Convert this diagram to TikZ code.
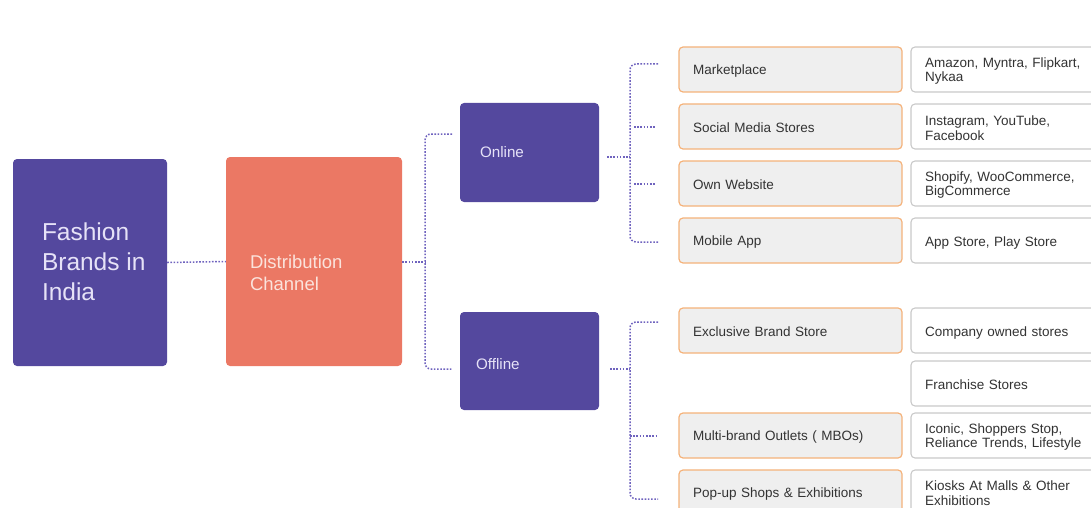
\documentclass[tikz,border=0pt]{standalone}
\usepackage{fontspec}
\setmainfont{Liberation Sans}
\usetikzlibrary{calc}
\definecolor{pur}{HTML}{54489E}
\definecolor{sal}{HTML}{EB7864}
\definecolor{obord}{HTML}{F5B27A}
\definecolor{ofill}{HTML}{EFEFEF}
\definecolor{wbord}{HTML}{C9C9C9}
\definecolor{gtext}{HTML}{333333}
\definecolor{ptext}{HTML}{E6E2F7}
\definecolor{stext}{HTML}{FBE3DC}
\definecolor{dotc}{HTML}{6F63BE}
\tikzset{
  bigbox/.style={rounded corners=4pt, inner sep=0pt, draw=none},
  purbox/.style={bigbox, fill=pur, minimum width=139pt, minimum height=99pt},
  btext/.style={anchor=west, align=left, inner sep=0pt},
  obox/.style={draw=obord, line width=1.2pt, fill=ofill, rounded corners=4pt,
    minimum height=45pt, inner xsep=14pt, inner ysep=0pt, text width=195pt, align=left,
    text=gtext, font=\fontsize{13.5}{14.5}\selectfont},
  wbox/.style={draw=wbord, line width=1.1pt, fill=white, rounded corners=4pt,
    minimum height=45pt, inner xsep=14pt, inner ysep=0pt, text width=162pt, align=left,
    text=gtext, font=\fontsize{13.5}{14.5}\selectfont},
  conn/.style={draw=dotc, line width=1.5pt, dash pattern=on 1.6pt off 1.6pt},
}
\begin{document}
\begin{tikzpicture}[x=1pt,y=-1pt]
\useasboundingbox (0,0) rectangle (1091,508);
\clip (0,0) rectangle (1091,508);
% level 0 and 1
\node[bigbox, fill=pur, minimum width=154pt, minimum height=207pt] (fashion) at (90,262.5) {};
\node[btext, text=ptext, font=\fontsize{24.5}{30}\selectfont] (fashiont) at ($(fashion.west)+(29,-1)$) {Fashion\\Brands in\\India};
\node[bigbox, fill=sal, minimum width=176pt, minimum height=209pt] (dist) at (314,261.5) {};
\node[btext, text=stext, font=\fontsize{18.5}{22}\selectfont] (distt) at ($(dist.west)+(24,11)$) {Distribution\\Channel};
\node[purbox] (online) at (529.5,152.5) {};
\node[btext, text=ptext, font=\fontsize{15.2}{18}\selectfont] (onlinet) at ($(online.west)+(20,0)$) {Online};
\node[purbox, minimum height=98pt] (offline) at (529.5,361) {};
\node[btext, text=ptext, font=\fontsize{15.2}{18}\selectfont] (offlinet) at ($(offline.west)+(16,3)$) {Offline};
% level 2 (online)
\node[obox] (market) at (790.5,69.5) {\rule{0pt}{13pt}Marketplace};
\node[obox] (social) at (790.5,126.5) {\rule{0pt}{13pt}Social Media Stores};
\node[obox] (own) at (790.5,183.5) {\rule{0pt}{13pt}Own Website};
\node[obox] (mobile) at (790.5,240.5) {\rule{0pt}{13pt}Mobile App};
% level 2 (offline)
\node[obox] (excl) at (790.5,330.5) {\rule{0pt}{13pt}Exclusive Brand Store};
\node[obox] (mbo) at (790.5,435.5) {\rule{0pt}{13pt}Multi-brand Outlets ( MBOs)};
\node[obox] (popup) at (790.5,492.5) {\rule{0pt}{13pt}Pop-up Shops \& Exhibitions};
% level 3
\node[wbox] (w1) at (1006,69.5) {\rule{0pt}{13pt}Amazon, Myntra, Flipkart,\\Nykaa};
\node[wbox] (w2) at (1006,126.5) {\rule{0pt}{13pt}Instagram, YouTube,\\Facebook};
\node[wbox] (w3) at (1006,183.5) {\rule{0pt}{13pt}Shopify, WooCommerce,\\BigCommerce};
\node[wbox] (w4) at (1006,240.5) {\rule{0pt}{15pt}App Store, Play Store};
\node[wbox] (w5) at (1006,330.5) {\rule{0pt}{15pt}Company owned stores};
\node[wbox] (w6) at (1006,383.5) {\rule{0pt}{13pt}Franchise Stores};
\node[wbox] (w7) at (1006,435.5) {\rule{0pt}{13pt}Iconic, Shoppers Stop,\\Reliance Trends, Lifestyle};
\node[wbox] (w8) at (1006,492.5) {\rule{0pt}{11pt}Kiosks At Malls \& Other\\Exhibitions};
% connectors
\draw[conn] (fashion.east) -- (dist.west);
\coordinate (b0) at (425,262);
\coordinate (b0t) at (452,134);
\coordinate (b0b) at (452,369);
\draw[conn] (dist.east |- b0) -- (b0);
\draw[conn, rounded corners=6pt] (b0t) -| (b0) |- (b0b);
% online bracket
\coordinate (b1) at (630,157);
\coordinate (b1s) at (607,157);
\coordinate (b1t) at (658,64);
\coordinate (b1b) at (658,242);
\draw[conn] (b1s) -- (b1);
\draw[conn, rounded corners=6pt] (b1t) -| (b1) |- (b1b);
\draw[conn] (634,127) -- (656,127);
\draw[conn] (634,184) -- (656,184);
% offline bracket
\coordinate (b2) at (630,369);
\coordinate (b2s) at (610,369);
\coordinate (b2t) at (658,322);
\coordinate (b2b) at (658,499);
\draw[conn] (b2s) -- (b2);
\draw[conn, rounded corners=6pt] (b2t) -| (b2) |- (b2b);
\draw[conn] (630,436) -- (656,436);
\end{tikzpicture}
\end{document}
